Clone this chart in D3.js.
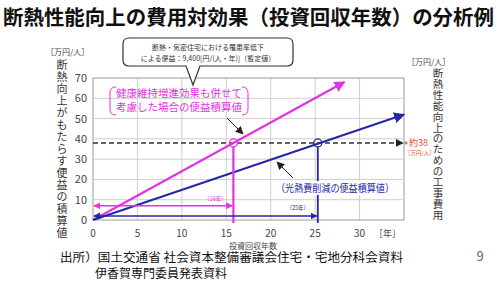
<!DOCTYPE html>
<html><head><meta charset="utf-8">
<script src="https://cdn.jsdelivr.net/npm/d3@7/dist/d3.min.js"></script>
<style>
html,body{margin:0;padding:0;background:#fff;}
svg{display:block;font-family:"Noto Sans CJK JP","Noto Sans",sans-serif;}
</style></head>
<body>
<svg id="c" width="500" height="289"></svg>
<script>
// ---- data ----
const title = "断熱性能向上の費用対効果（投資回収年数）の分析例";
const xTicks = [0, 5, 10, 15, 20, 25, 30];
const yTicks = [0, 10, 20, 30, 40, 50, 60, 70];
const xGrid = [0, 5, 10, 15, 20, 25, 30, 35];
const pinkLine = [[0, 0], [28.3, 68]];   // 健康維持増進効果も併せて考慮した場合
const blueLine = [[0, 0], [35, 52]];     // 光熱費削減
const costLevel = 38;                    // 約38 万円/人
const pinkPayback = 15.8;                // (16年)
const bluePayback = 25.3;                // (25年)
const pinkArrowLevel = 7;
const blueArrowLevel = 2;
const leftTitle = "断熱向上がもたらす便益の積算値";
const rightTitle = "断熱性能向上のための工事費用";
const unitLabel = "［万円/人］";
const xTitle = "投資回収年数";
const xUnit = "［年］";
const calloutLines = ["断熱・気密住宅における罹患率低下", "による便益：9,400[円/(人・年)]（暫定値）"];
const pinkLabel = ["健康維持増進効果も併せて", "考慮した場合の便益積算値"];
const blueLabel = "（光熱費削減の便益積算値）";
const sourceLines = ["出所）国土交通省 社会資本整備審議会住宅・宅地分科会資料", "伊香賀専門委員発表資料"];
const pageNo = "9";

const PINK = "#e233e0", BLUE = "#2626a8", RED = "#e0502c";
const svg = d3.select("#c");
const x = d3.scaleLinear().domain([0, 35]).range([93, 404]);
const y = d3.scaleLinear().domain([0, 70]).range([220, 78]);

// markers
const defs = svg.append("defs");
function marker(id, color, size) {
  defs.append("marker").attr("id", id).attr("viewBox", "0 0 10 10").attr("refX", 9).attr("refY", 5)
    .attr("markerWidth", size).attr("markerHeight", size).attr("orient", "auto-start-reverse")
    .attr("markerUnits", "userSpaceOnUse")
    .append("path").attr("d", "M0,0 L10,5 L0,10 Z").attr("fill", color);
}
marker("mp", PINK, 11); marker("mb", BLUE, 11); marker("mk", "#222", 8);
marker("mps", PINK, 7); marker("mbs", BLUE, 7);

// title
svg.append("text").attr("x", 3).attr("y", 25).attr("font-size", 20.5).attr("font-weight", 700)
  .attr("fill", "#111").attr("textLength", 491).attr("lengthAdjust", "spacingAndGlyphs").text(title);

// grid
const g = svg.append("g");
g.append("g").selectAll("line").data(xGrid).join("line").attr("x1", d => x(d)).attr("x2", d => x(d))
  .attr("y1", y(70)).attr("y2", y(0)).attr("stroke", d => (d === 0 || d === 35) ? "#999" : "#cfcfcf").attr("stroke-width", 1);
g.append("g").selectAll("line").data(yTicks).join("line").attr("x1", x(0)).attr("x2", x(35))
  .attr("y1", d => y(d)).attr("y2", d => y(d)).attr("stroke", d => (d === 0 || d === 70) ? "#999" : "#cfcfcf").attr("stroke-width", 1);

// tick labels
svg.append("g").selectAll("text").data(xTicks).join("text")
  .attr("x", d => x(d)).attr("y", 237).attr("text-anchor", "middle")
  .attr("font-size", 10).attr("fill", "#444").text(d => d);
svg.append("g").selectAll("text").data(yTicks).join("text")
  .attr("x", x(0) - 6).attr("y", d => y(d) + 4).attr("text-anchor", "end")
  .attr("font-size", 11).attr("fill", "#444").text(d => d);

svg.append("text").attr("x", 374).attr("y", 237).attr("font-size", 9).attr("fill", "#444").text(xUnit);
svg.append("text").attr("x", 253).attr("y", 248.5).attr("text-anchor", "middle").attr("font-size", 8).attr("fill", "#444").text(xTitle);

// unit labels
svg.append("text").attr("x", 46).attr("y", 55).attr("font-size", 8).attr("fill", "#444").text(unitLabel);
svg.append("text").attr("x", 407).attr("y", 65).attr("font-size", 8).attr("fill", "#444").text(unitLabel);

// vertical titles (one glyph per line)
svg.append("g").selectAll("text").data(leftTitle.split("")).join("text")
  .attr("x", 62).attr("y", (d, i) => 69 + i * 12).attr("text-anchor", "middle")
  .attr("font-size", 11).attr("fill", "#333").text(d => d);
svg.append("g").selectAll("text").data(rightTitle.split("")).join("text")
  .attr("x", 438).attr("y", (d, i) => 77 + i * 10.9).attr("text-anchor", "middle")
  .attr("font-size", 10.5).attr("fill", "#333").text(d => d);

// dashed cost line
svg.append("line").attr("x1", x(0)).attr("x2", x(35) - 1).attr("y1", y(costLevel)).attr("y2", y(costLevel))
  .attr("stroke", "#333").attr("stroke-width", 1.5).attr("stroke-dasharray", "5,3").attr("marker-end", "url(#mk)");
svg.append("circle").attr("cx", x(35) + 2).attr("cy", y(costLevel)).attr("r", 1.6).attr("fill", "#9a9a50");
svg.append("text").attr("x", 409).attr("y", y(costLevel) + 3).attr("font-size", 9).attr("fill", RED).text("約38");
svg.append("text").attr("x", 405).attr("y", y(costLevel) + 12).attr("font-size", 5.5).attr("fill", RED).text("［万円/人］");

// main lines
const line = d3.line().x(d => x(d[0])).y(d => y(d[1]));
svg.append("path").datum(pinkLine).attr("d", line).attr("stroke", PINK).attr("stroke-width", 2.2).attr("fill", "none").attr("marker-end", "url(#mp)");
svg.append("path").datum(blueLine).attr("d", line).attr("stroke", BLUE).attr("stroke-width", 2).attr("fill", "none").attr("marker-end", "url(#mb)");

// payback verticals
svg.append("line").attr("x1", x(pinkPayback)).attr("x2", x(pinkPayback)).attr("y1", y(costLevel) + 4).attr("y2", y(0) + 3)
  .attr("stroke", PINK).attr("stroke-width", 2.2);
svg.append("line").attr("x1", x(bluePayback)).attr("x2", x(bluePayback)).attr("y1", y(costLevel) + 4).attr("y2", y(0) + 3)
  .attr("stroke", BLUE).attr("stroke-width", 1.8);
svg.append("circle").attr("cx", x(pinkPayback)).attr("cy", y(costLevel)).attr("r", 4).attr("fill", "none").attr("stroke", PINK).attr("stroke-width", 1.3);
svg.append("circle").attr("cx", x(bluePayback)).attr("cy", y(costLevel)).attr("r", 4).attr("fill", "none").attr("stroke", BLUE).attr("stroke-width", 1.3);

// payback horizontal arrows
svg.append("line").attr("x1", x(pinkPayback) - 1).attr("x2", x(0) + 1).attr("y1", y(pinkArrowLevel)).attr("y2", y(pinkArrowLevel))
  .attr("stroke", PINK).attr("stroke-width", 1.4).attr("marker-end", "url(#mps)").attr("marker-start", "url(#mps)");
svg.append("line").attr("x1", x(0) + 1).attr("x2", x(bluePayback) - 1).attr("y1", y(blueArrowLevel)).attr("y2", y(blueArrowLevel))
  .attr("stroke", BLUE).attr("stroke-width", 1.4).attr("marker-end", "url(#mbs)").attr("marker-start", "url(#mbs)");
svg.append("text").attr("x", x(pinkPayback) - 18).attr("y", y(pinkArrowLevel) - 5).attr("text-anchor", "middle")
  .attr("font-size", 5.5).attr("fill", PINK).text("（16年）");
svg.append("text").attr("x", x(bluePayback) - 20).attr("y", y(blueArrowLevel) - 6).attr("text-anchor", "middle")
  .attr("font-size", 5.5).attr("fill", BLUE).text("（25年）");

// callout box
const bx0 = 123, bx1 = 293, by0 = 38, by1 = 66, r = 6;
const callout = `M${bx0 + r},${by0} H${bx1 - r} Q${bx1},${by0} ${bx1},${by0 + r} V${by1 - r} Q${bx1},${by1} ${bx1 - r},${by1}
  H${200} L${193},${85} L${186},${by1} H${bx0 + r} Q${bx0},${by1} ${bx0},${by1 - r} V${by0 + r} Q${bx0},${by0} ${bx0 + r},${by0} Z`;
svg.append("path").attr("d", callout).attr("fill", "#fff").attr("stroke", "#333").attr("stroke-width", 1.2);
svg.append("g").selectAll("text").data(calloutLines).join("text")
  .attr("x", 208).attr("y", (d, i) => 50 + i * 10.5).attr("text-anchor", "middle")
  .attr("font-size", 7).attr("fill", "#333").text(d => d);

// pink label with brackets
svg.append("g").selectAll("text").data(pinkLabel).join("text")
  .attr("x", 179).attr("y", (d, i) => 97 + i * 14).attr("text-anchor", "middle")
  .attr("font-size", 10.5).attr("fill", PINK).text(d => d);
svg.append("path").attr("d", "M116,87 Q110,87 110,93 V109 Q110,115 116,115").attr("fill", "none").attr("stroke", PINK).attr("stroke-width", 1);
svg.append("path").attr("d", "M242,87 Q248,87 248,93 V109 Q248,115 242,115").attr("fill", "none").attr("stroke", PINK).attr("stroke-width", 1);
svg.append("line").attr("x1", 227).attr("y1", 118).attr("x2", 243).attr("y2", 134)
  .attr("stroke", "#222").attr("stroke-width", 1).attr("marker-end", "url(#mk)");

// blue label (white backing)
svg.append("rect").attr("x", 276).attr("y", 181).attr("width", 118).attr("height", 14).attr("fill", "#fff");
svg.append("text").attr("x", 335).attr("y", 192).attr("text-anchor", "middle")
  .attr("font-size", 10.5).attr("fill", BLUE).attr("textLength", 118).attr("lengthAdjust", "spacingAndGlyphs").text(blueLabel);
svg.append("line").attr("x1", 293).attr("y1", 178).attr("x2", 277).attr("y2", 162)
  .attr("stroke", "#222").attr("stroke-width", 1).attr("marker-end", "url(#mk)");

// source & page number
svg.append("text").attr("x", 60).attr("y", 262).attr("font-size", 12).attr("fill", "#111")
  .attr("textLength", 343).attr("lengthAdjust", "spacingAndGlyphs").text(sourceLines[0]);
svg.append("text").attr("x", 95).attr("y", 278).attr("font-size", 12).attr("fill", "#111").text(sourceLines[1]);
svg.append("text").attr("x", 480).attr("y", 261).attr("text-anchor", "middle").attr("font-size", 13).attr("fill", "#666").text(pageNo);
</script>
</body></html>
